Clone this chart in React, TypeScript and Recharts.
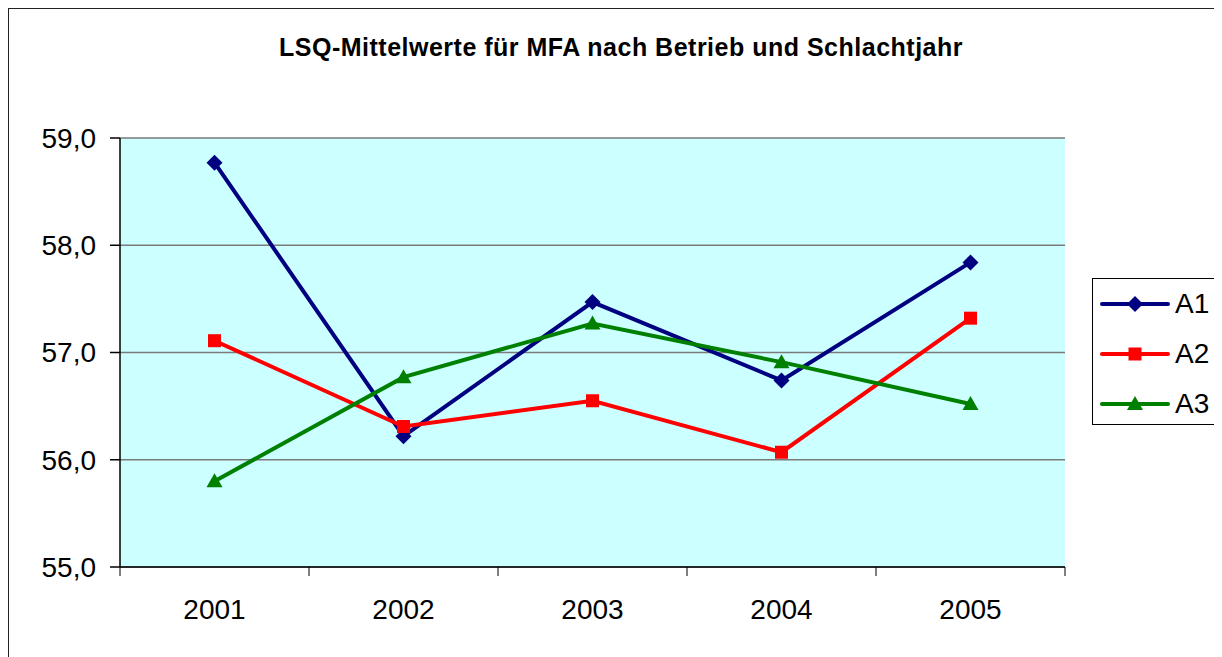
import React from 'react';
import { LineChart, Line, XAxis, YAxis, CartesianGrid } from 'recharts';

const years = ['2001', '2002', '2003', '2004', '2005'];
const a1 = [58.77, 56.22, 57.47, 56.74, 57.84];
const a2 = [57.11, 56.31, 56.55, 56.07, 57.32];
const a3 = [55.8, 56.77, 57.27, 56.91, 56.52];
const yTicks = [55, 56, 57, 58, 59];

const data = years.map((year, i) => ({ year, A1: a1[i], A2: a2[i], A3: a3[i] }));

const FONT = '"Liberation Sans", Arial, sans-serif';
const HALF_BAND = 94.5;

const Diamond = (props: any) => {
  const { cx, cy, fill } = props;
  if (cx == null || cy == null) return null;
  const r = 8;
  return <polygon points={`${cx},${cy - r} ${cx + r},${cy} ${cx},${cy + r} ${cx - r},${cy}`} fill={fill} />;
};

const Square = (props: any) => {
  const { cx, cy, fill } = props;
  if (cx == null || cy == null) return null;
  return <rect x={cx - 6.5} y={cy - 6.5} width={13} height={13} fill={fill} />;
};

const Triangle = (props: any) => {
  const { cx, cy, fill } = props;
  if (cx == null || cy == null) return null;
  return <polygon points={`${cx},${cy - 8} ${cx + 8},${cy + 6} ${cx - 8},${cy + 6}`} fill={fill} />;
};

const YearTick = (props: any) => {
  const { x, y, payload, index } = props;
  return (
    <g>
      <line x1={x - HALF_BAND} x2={x - HALF_BAND} y1={y - 2} y2={y + 7} stroke="#000" strokeWidth={1} />
      {index === years.length - 1 && (
        <line x1={x + HALF_BAND} x2={x + HALF_BAND} y1={y - 2} y2={y + 7} stroke="#000" strokeWidth={1} />
      )}
      <text x={x} y={y + 50} textAnchor="middle" fontSize={28} fontFamily={FONT} fill="#000">
        {payload.value}
      </text>
    </g>
  );
};

const series = [
  { key: 'A1', color: '#000080', Shape: Diamond },
  { key: 'A2', color: '#FF0000', Shape: Square },
  { key: 'A3', color: '#008000', Shape: Triangle },
];

const LegendBox = () => (
  <div
    style={{
      position: 'absolute',
      left: 1083,
      top: 269,
      width: 127,
      height: 147,
      border: '1px solid #000',
      background: '#fff',
      boxSizing: 'border-box',
      fontFamily: FONT,
    }}
  >
    {series.map((s, i) => (
      <div key={s.key} style={{ position: 'absolute', left: 0, top: 8 + i * 50, height: 34, width: 125 }}>
        <svg width={72} height={34} style={{ position: 'absolute', left: 6, top: 0 }}>
          <line x1={3} x2={69} y1={17} y2={17} stroke={s.color} strokeWidth={4} strokeLinecap="round" />
          <s.Shape cx={36} cy={17} fill={s.color} />
        </svg>
        <span style={{ position: 'absolute', left: 82, top: 0, fontSize: 28, lineHeight: '34px', color: '#000' }}>
          {s.key}
        </span>
      </div>
    ))}
  </div>
);

export default function App() {
  return (
    <div
      style={{
        position: 'relative',
        width: 1214,
        height: 649,
        borderLeft: '1.5px solid #222',
        borderTop: '1.5px solid #222',
        boxSizing: 'border-box',
        background: '#fff',
        overflow: 'hidden',
      }}
    >
      <style>{'html, body { overflow: hidden; }'}</style>
      <div
        style={{
          position: 'absolute',
          left: 0,
          top: 24,
          width: 1224,
          textAlign: 'center',
          fontFamily: FONT,
          fontWeight: 'bold',
          fontSize: 25,
          letterSpacing: 0.5,
          color: '#000',
        }}
      >
        LSQ-Mittelwerte für MFA nach Betrieb und Schlachtjahr
      </div>
      <div style={{ position: 'absolute', left: -1.5, top: -1.5 }}>
        <LineChart width={1214} height={658} data={data} margin={{ top: 130, right: 157, bottom: 0, left: 0 }}>
          <CartesianGrid vertical={false} stroke="#7a7a7a" fill="#CCFFFF" strokeWidth={1.5} />
          <XAxis
            dataKey="year"
            stroke="#000"
            strokeWidth={1.5}
            tickLine={false}
            tickSize={0}
            tick={<YearTick />}
            height={99}
            padding={{ left: HALF_BAND, right: HALF_BAND }}
            interval={0}
          />
          <YAxis
            domain={[55, 59]}
            ticks={yTicks}
            width={112}
            stroke="#000"
            strokeWidth={1.5}
            tickSize={10}
            tickMargin={14}
            tick={{ fontSize: 28, fontFamily: FONT, fill: '#000' }}
            tickFormatter={(v: number) => v.toFixed(1).replace('.', ',')}
          />
          <YAxis yAxisId="r" orientation="right" width={0} tick={false} tickLine={false} stroke="#808080" strokeWidth={1.5} />
          {series.map((s) => (
            <Line
              key={s.key}
              dataKey={s.key}
              stroke={s.color}
              strokeWidth={4}
              dot={<s.Shape />}
              fill={s.color}
              activeDot={false}
              isAnimationActive={false}
            />
          ))}
        </LineChart>
      </div>
      <LegendBox />
    </div>
  );
}
